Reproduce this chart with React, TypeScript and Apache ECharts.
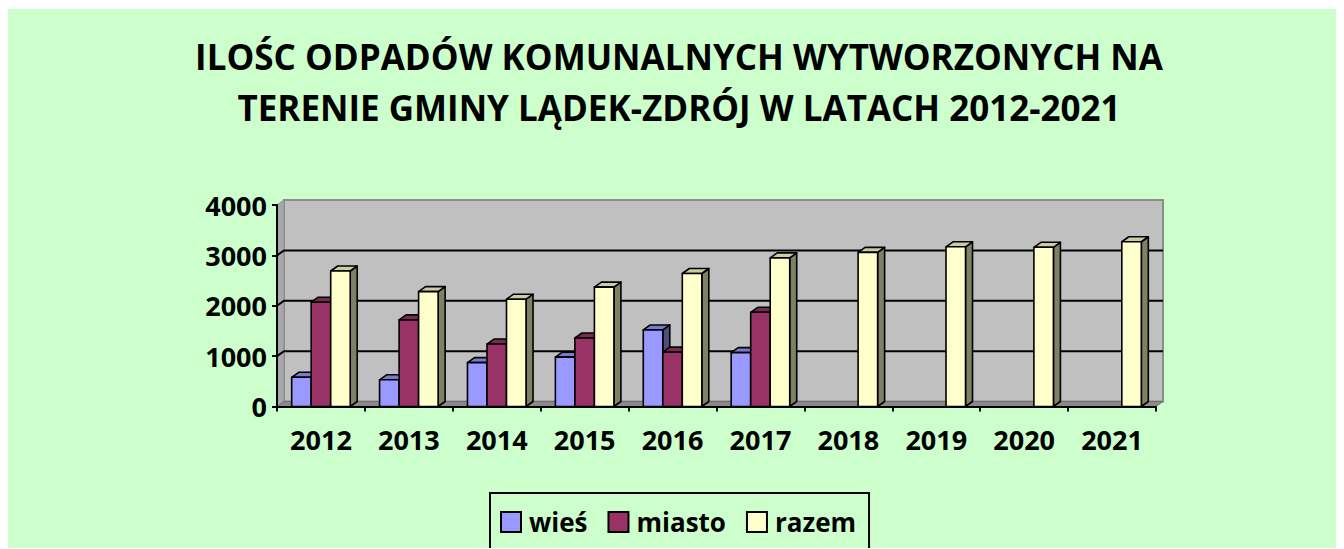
import React, { useEffect, useRef } from "react";
import * as echarts from "echarts";

const titleLines = [
  "ILOŚC ODPADÓW KOMUNALNYCH WYTWORZONYCH NA",
  "TERENIE GMINY LĄDEK-ZDRÓJ W LATACH 2012-2021",
];
const categories = ["2012", "2013", "2014", "2015", "2016", "2017", "2018", "2019", "2020", "2021"];
const wies = [580, 530, 870, 980, 1520, 1070, null, null, null, null];
const miasto = [2070, 1720, 1240, 1360, 1080, 1870, null, null, null, null];
const razem = [2690, 2280, 2130, 2370, 2640, 2950, 3060, 3170, 3160, 3270];
const yTicks = [0, 1000, 2000, 3000, 4000];
const seriesNames = ["wieś", "miasto", "razem"];

const faceColors = [
  { front: "#9999FF", top: "#7A7ACC", side: "#4D4D80" },
  { front: "#993366", top: "#7A2952", side: "#4D1A33" },
  { front: "#FFFFCC", top: "#CCCCA3", side: "#808066" },
];

const DX = 7;
const DY = -5;
const BAR_FRAC = 0.222;

function makeBarRender(si: number) {
  return (params: any, api: any) => {
    const v = api.value(1);
    if (v == null || isNaN(v)) return null;
    const idx = api.value(0);
    const bandW = api.size([1, 0])[0];
    const barW = bandW * BAR_FRAC;
    const top = api.coord([idx, v]);
    const base = api.coord([idx, 0]);
    const x = top[0] - 1.5 * barW + si * barW;
    const yT = top[1];
    const yB = base[1];
    const c = faceColors[si];
    const stroke = { stroke: "#000", lineWidth: 1.6, lineJoin: "round" };
    return {
      type: "group",
      children: [
        {
          type: "polygon",
          shape: { points: [[x + barW, yT], [x + barW + DX, yT + DY], [x + barW + DX, yB + DY], [x + barW, yB]] },
          style: { fill: c.side, ...stroke },
        },
        {
          type: "polygon",
          shape: { points: [[x, yT], [x + DX, yT + DY], [x + barW + DX, yT + DY], [x + barW, yT]] },
          style: { fill: c.top, ...stroke },
        },
        {
          type: "rect",
          shape: { x, y: yT, width: barW, height: yB - yT },
          style: { fill: c.front, ...stroke },
        },
      ],
    };
  };
}

const frameRender = (params: any, api: any) => {
  const bandW = api.size([1, 0])[0];
  const c0 = api.coord([0, 0]);
  const x0 = c0[0] - bandW / 2;
  const x1 = x0 + bandW * categories.length;
  const yb = c0[1];
  const yt = api.coord([0, yTicks[yTicks.length - 1]])[1];
  const children: any[] = [];
  children.push({
    type: "rect",
    shape: { x: x0 + DX, y: yt + DY, width: x1 - x0, height: yb - yt },
    style: { fill: "#C0C0C0", stroke: "#8C8C8C", lineWidth: 2 },
  });
  children.push({
    type: "polygon",
    shape: { points: [[x0, yb], [x0, yt], [x0 + DX, yt + DY], [x0 + DX, yb + DY]] },
    style: { fill: "#A8A8A8", stroke: "#8C8C8C", lineWidth: 1 },
  });
  yTicks.slice(1, -1).forEach((t) => {
    const y = api.coord([0, t])[1];
    children.push({
      type: "polyline",
      shape: { points: [[x0, y], [x0 + DX, y + DY], [x1 + DX, y + DY]] },
      style: { stroke: "#000", lineWidth: 2, fill: null },
    });
  });
  children.push({
    type: "polygon",
    shape: { points: [[x0, yb], [x1, yb], [x1 + DX, yb + DY], [x0 + DX, yb + DY]] },
    style: { fill: "#8A8A8A", stroke: "#6E6E6E", lineWidth: 1 },
  });
  return { type: "group", children };
};

export default function App() {
  const ref = useRef<HTMLDivElement>(null);
  useEffect(() => {
    document.documentElement.style.overflow = "hidden";
    const chart = echarts.init(ref.current!, null, { renderer: "svg" });
    const font = "'Open Sans', 'Noto Sans', sans-serif";
    const dataSets = [wies, miasto, razem];
    chart.setOption({
      animation: false,
      backgroundColor: "#CCFFCC",
      textStyle: { fontFamily: font },
      title: {
        text: titleLines.join("\n"),
        left: 666,
        textAlign: "center",
        top: 17,
        textStyle: { fontFamily: font, fontWeight: "bold", fontSize: 35, lineHeight: 51, color: "#000" },
      },
      legend: {
        data: seriesNames,
        left: 482,
        top: 484,
        orient: "horizontal",
        padding: [16, 13, 18, 10],
        borderColor: "#000",
        borderWidth: 2,
        itemWidth: 20,
        itemHeight: 20,
        itemGap: 20,
        icon: "rect",
        itemStyle: { borderColor: "#000", borderWidth: 2 },
        textStyle: { fontFamily: font, fontWeight: "bold", fontSize: 26, color: "#000", padding: [0, 0, 0, 3] },
      },
      grid: { left: 269, right: 188, top: 196, bottom: 142.5, containLabel: false },
      xAxis: {
        type: "category",
        data: categories,
        axisLine: { show: true, lineStyle: { color: "#000", width: 2 } },
        axisTick: { show: true, length: 5, lineStyle: { color: "#000", width: 2 } },
        axisLabel: { fontFamily: font, fontWeight: "bold", fontSize: 27, color: "#000", margin: 19 },
        splitLine: { show: false },
        z: 10,
      },
      yAxis: {
        type: "value",
        min: 0,
        max: 4000,
        interval: 1000,
        axisLine: { show: true, lineStyle: { color: "#000", width: 2 } },
        axisTick: { show: true, length: 5, lineStyle: { color: "#000", width: 2 } },
        axisLabel: {
          fontFamily: font,
          fontWeight: "bold",
          fontSize: 27,
          color: "#000",
          margin: 10,
          formatter: (v: number) => String(v),
        },
        splitLine: { show: false },
        z: 10,
      },
      series: [
        {
          type: "custom",
          name: "frame",
          renderItem: frameRender,
          data: [[0, 0]],
          encode: { x: 0, y: 1 },
          z: 1,
          silent: true,
        },
        ...dataSets.map((arr, si) => ({
          type: "custom",
          name: seriesNames[si],
          renderItem: makeBarRender(si),
          itemStyle: { color: faceColors[si].front, borderColor: "#000", borderWidth: 2 },
          data: arr.map((v, i) => [i, v == null ? "-" : v]),
          encode: { x: 0, y: 1 },
          z: 3,
        })),
      ],
    });
    return () => chart.dispose();
  }, []);
  return <div ref={ref} style={{ width: 1336, height: 540, position: "relative", top: 1 }} />;
}
